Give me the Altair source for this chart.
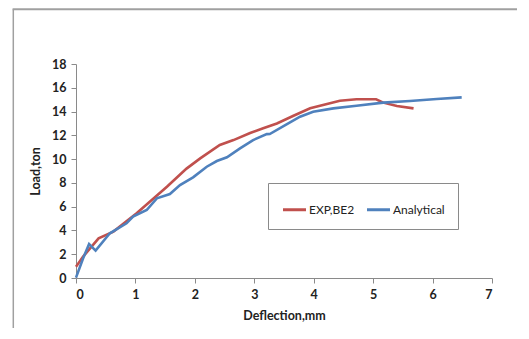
import altair as alt
import pandas as pd

exp_x = [0.0, 0.12, 0.38, 0.63, 1.02, 1.53, 1.86, 2.09, 2.42, 2.65, 2.93, 3.15, 3.38, 3.66, 3.94, 4.19, 4.44, 4.72, 5.05, 5.17, 5.4, 5.68]
exp_y = [0.95, 1.8, 3.34, 3.9, 5.44, 7.68, 9.2, 10.06, 11.19, 11.6, 12.2, 12.6, 13.0, 13.65, 14.27, 14.6, 14.91, 15.03, 15.03, 14.75, 14.47, 14.27]

ana_x = [0.0, 0.12, 0.22, 0.33, 0.57, 0.85, 0.96, 1.19, 1.36, 1.58, 1.75, 1.97, 2.2, 2.37, 2.54, 2.76, 2.98, 3.21, 3.26, 3.55, 3.77, 3.99, 4.33, 4.72, 5.17, 5.62, 6.07, 6.49]
ana_y = [0.03, 1.66, 2.86, 2.3, 3.76, 4.6, 5.16, 5.72, 6.7, 7.06, 7.82, 8.47, 9.36, 9.84, 10.15, 10.9, 11.6, 12.1, 12.11, 12.95, 13.57, 13.99, 14.27, 14.49, 14.75, 14.89, 15.05, 15.19]

series_names = ["EXP,BE2", "Analytical"]
series_colors = ["#C0504D", "#4F81BD"]

rows = []
for i, (x, y) in enumerate(zip(exp_x, exp_y)):
    rows.append({"series": series_names[0], "d": x, "L": y, "o": i})
for i, (x, y) in enumerate(zip(ana_x, ana_y)):
    rows.append({"series": series_names[1], "d": x, "L": y, "o": i})
df = pd.DataFrame(rows)

FONT = "Lato"

lines = alt.Chart(df).mark_line(strokeWidth=2.6, clip=False).encode(
    x=alt.X("d:Q", scale=alt.Scale(domain=[0, 7], nice=False),
            axis=alt.Axis(title="Deflection,mm", values=list(range(0, 8)), format="d",
                          grid=False, tickSize=5, labelPadding=5, titlePadding=9)),
    y=alt.Y("L:Q", scale=alt.Scale(domain=[0, 18], nice=False),
            axis=alt.Axis(title="Load,ton", values=list(range(0, 19, 2)), format="d",
                          grid=False, tickSize=5, labelPadding=5, titlePadding=9)),
    color=alt.Color("series:N", scale=alt.Scale(domain=series_names, range=series_colors),
                    legend=alt.Legend(title=None, orient="none", legendX=192, legendY=119,
                                      direction="horizontal", strokeColor="#8a8a8a",
                                      padding=13, symbolType="stroke", symbolSize=530,
                                      symbolStrokeWidth=3, labelFontSize=12,
                                      labelFont=FONT, labelColor="#222",
                                      columnPadding=5, labelOffset=1)),
    order="o:Q",
)

frame = alt.Data(values=[{"a": 1}])
left_line = alt.Chart(frame).mark_rule(color="#a0a0a0", strokeWidth=1.5, clip=False).encode(
    x=alt.value(-62.7), y=alt.value(-54.7), y2=alt.value(280))
top_line = alt.Chart(frame).mark_rule(color="#a0a0a0", strokeWidth=2, clip=False).encode(
    x=alt.value(-63.4), x2=alt.value(460), y=alt.value(-54.7))

chart = alt.layer(lines, left_line, top_line).properties(
    width=416, height=214,
    autosize=alt.AutoSizeParams(type="none"),
    padding={"left": 68, "top": 56, "right": 25, "bottom": 50},
).configure_view(stroke=None).configure_axis(
    domainColor="#8a8a8a", tickColor="#8a8a8a", labelFont=FONT, titleFont=FONT,
    labelFontSize=12.5, titleFontSize=12.5, labelFontWeight="bold", titleFontWeight="bold",
    labelColor="#222", titleColor="#222",
)

chart.save("out.html", embed_options={"renderer": "svg", "actions": False})
